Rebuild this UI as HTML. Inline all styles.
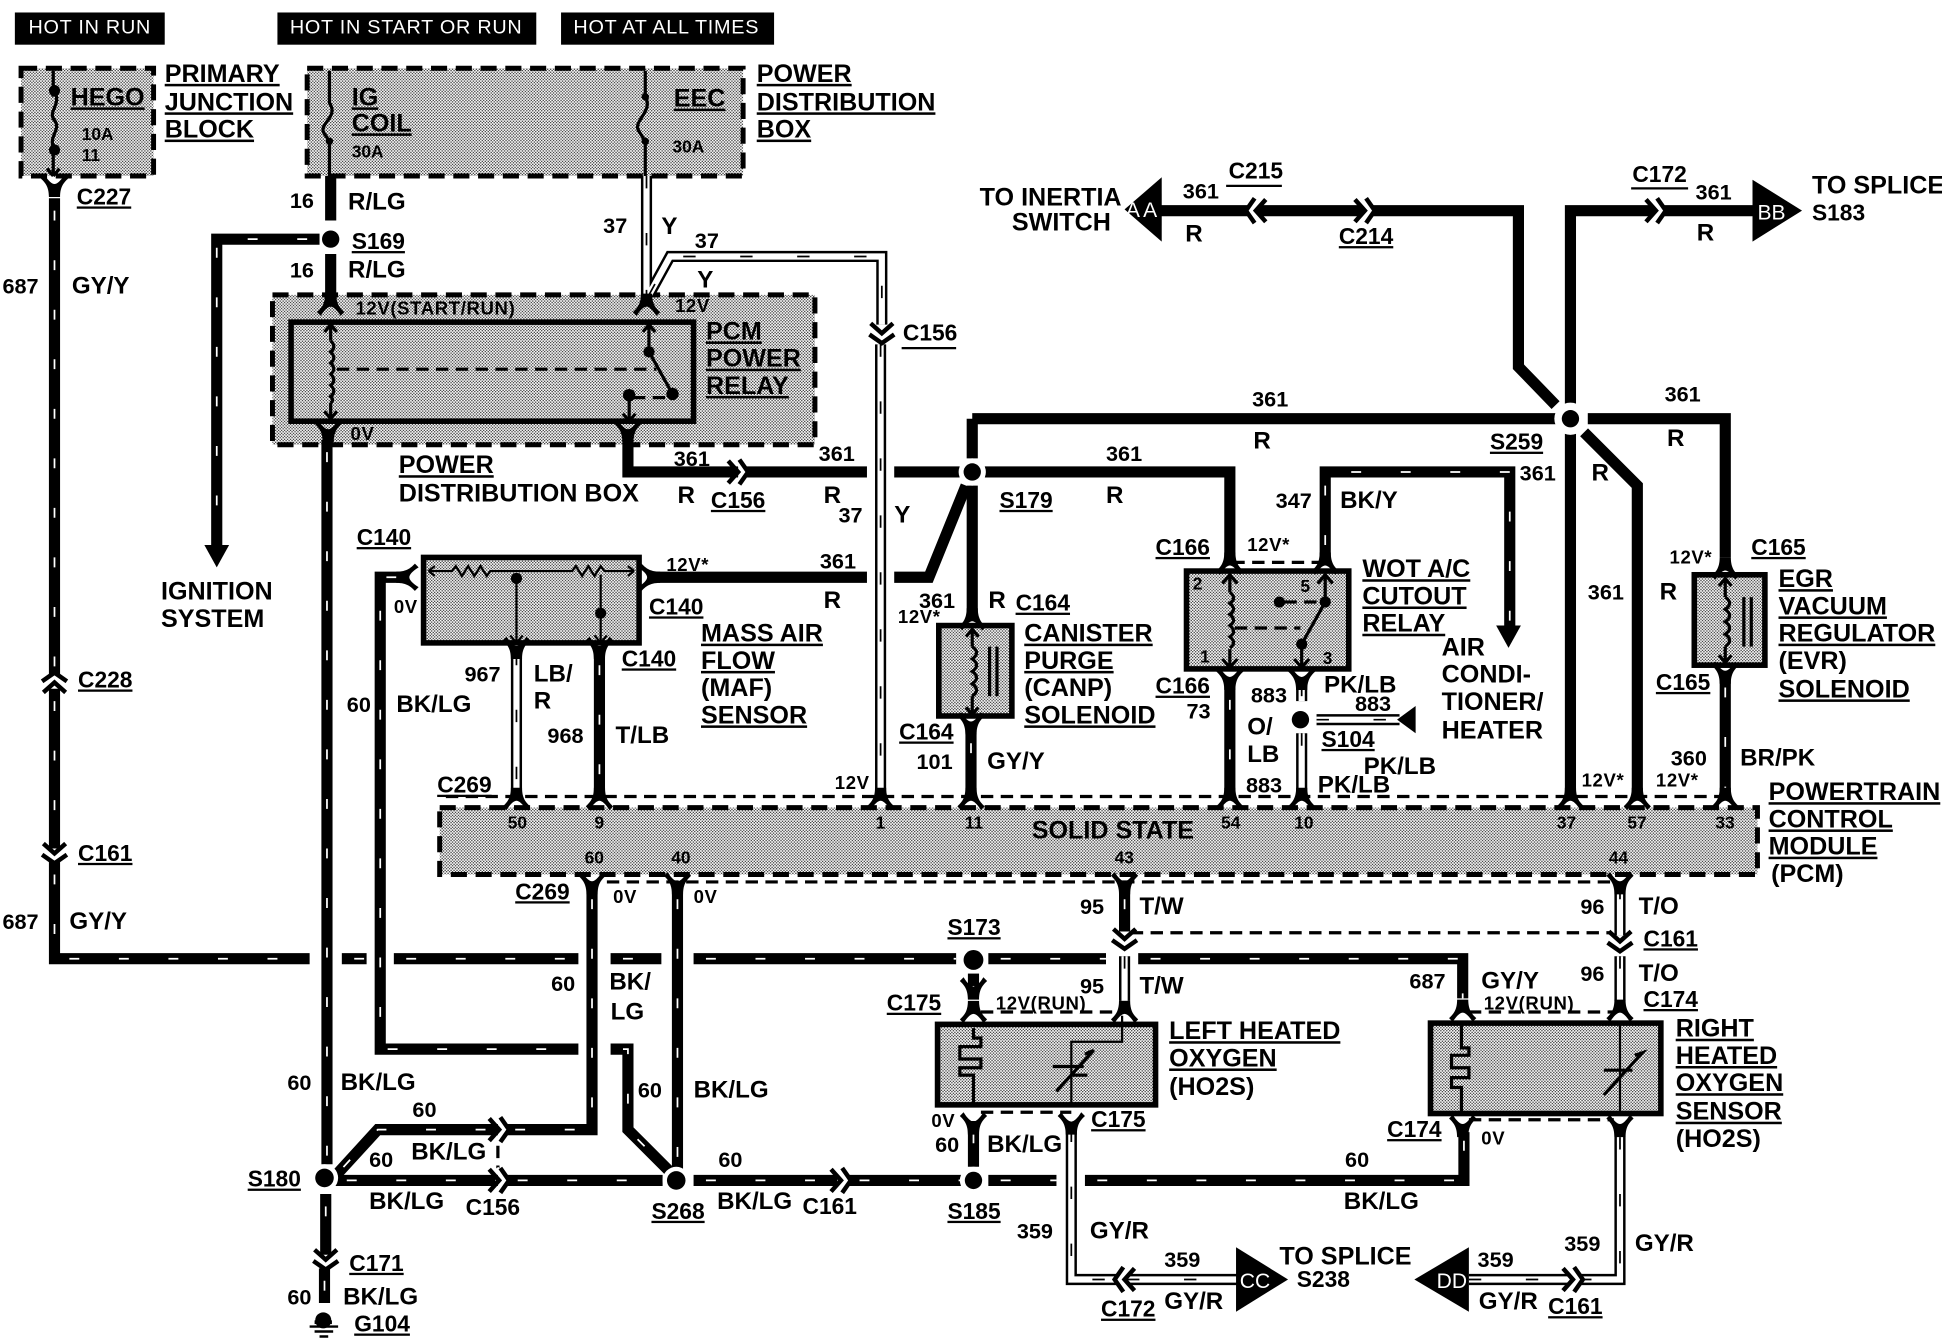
<!DOCTYPE html>
<html><head><meta charset="utf-8"><title>Wiring diagram</title>
<style>
html,body{margin:0;padding:0;background:#fff}
svg{display:block}
text{font-family:"Liberation Sans",sans-serif;font-weight:bold;font-size:20.3px;fill:#000}
.u{text-decoration:underline;text-decoration-thickness:1.6px;text-underline-offset:4px}
.n{font-size:17.5px}
.m{font-size:19.5px}
.c{font-size:18.4px}
.s{font-size:15px;letter-spacing:.5px}
.p{font-size:14px}
.h{fill:#fff;font-weight:normal;font-size:16px;letter-spacing:.6px}
.w{fill:#fff;font-weight:normal;font-size:17px}
.thin{fill:none;stroke:#000;stroke-width:1.8}
.med{fill:none;stroke:#000;stroke-width:2.6}
.dash{fill:none;stroke:#000;stroke-width:2.6;stroke-dasharray:10 6}
.box{stroke:#000;stroke-width:4.5;fill:url(#st)}
.dbox{stroke:#000;stroke-width:4;stroke-dasharray:13 7;fill:url(#st)}
</style></head><body>
<svg xmlns="http://www.w3.org/2000/svg" width="1942" height="1344" viewBox="0 0 1568 1085">
<defs>
<pattern id="st" width="2.4" height="2.4" patternUnits="userSpaceOnUse">
<rect width="2.4" height="2.4" fill="#fff"/><circle cx=".6" cy=".6" r=".54" fill="#000"/><circle cx="1.8" cy="1.8" r=".54" fill="#000"/>
</pattern>
<g id="y"><path d="M-11,-8 C-8,-5 -4.5,-2 -4.5,7 L4.5,7 C4.5,-2 8,-5 11,-8 L8,-11 C5,-6 2,-3.5 0,-3.5 C-2,-3.5 -5,-6 -8,-11Z" fill="#000"/></g>
<g id="c" fill="none"><path d="M-3,-10 L4,0 L-3,10" stroke="#fff" stroke-width="3.4"/><path d="M-9,-9 L-1,0 L-9,9" stroke="#000" stroke-width="3.6"/><path d="M0,-10 L7,0 L0,10" stroke="#000" stroke-width="3.6"/></g>
<g id="ti" fill="none" stroke-linejoin="miter">
<path d="M44,160 V545"/><path d="M44,556 V685"/><path d="M44,696 V774 H250"/><path d="M276,774 H296"/><path d="M318,774 H467"/><path d="M493,774 H534"/><path d="M560,774 H772"/><path d="M798,774 H893"/><path d="M919,774 H1181 V806"/>
<path d="M258,193 H175 V442"/>
<path d="M264,355 V940"/><path d="M263,964 V1013"/><path d="M262,1024 V1052"/>
<path d="M330,466 H307 V847 H467"/><path d="M493,847 H507 V912 L540,945"/>
<path d="M478,716 V912 H408"/><path d="M402,912 H305 L272,948"/>
<path d="M547,716 V945"/>
<path d="M270,953 H402"/><path d="M408,953 H535"/><path d="M560,953 H676"/><path d="M684,953 H777"/><path d="M798,953 H853"/><path d="M876,953 H1182 V914"/>
<path d="M786,905 V942"/><path d="M786,786 V800"/>
<path d="M1070,450 V381 H1219 V508"/>
<path d="M993,555 V642"/><path d="M484,527 V642"/><path d="M1393,545 V642"/><path d="M784,590 V642"/><path d="M908,716 V752"/>
</g>
<g id="so" fill="none">
<path d="M267,142 V178"/><path d="M267,205 V240"/>
<path d="M507,355 V381 H596"/><path d="M600,381 H700"/><path d="M722,381 H775"/>
<path d="M525,466 H700"/><path d="M722,466 H750 L780,392"/>
<path d="M785,338 V370"/><path d="M785,392 V495"/>
<path d="M795,381 H993 V450"/>
<path d="M785,338 H1256"/><path d="M1282,338 H1393 V450"/>
<path d="M1268,350 V642"/><path d="M1268,326 V170 H1335"/><path d="M1341,170 H1418"/>
<path d="M1256,327 L1226,296 V170 H1106"/><path d="M1100,170 H1016"/><path d="M1010,170 H936"/>
<path d="M1279,349 L1322,392 V642"/>
</g>
<g id="tw" fill="none">
<path d="M522,142 V240"/><path d="M524,238 L541,207 H712 V262"/><path d="M711,278 V645"/>
<path d="M417,527 V642"/><path d="M1051,552 V566"/><path d="M1051,592 V642"/><path d="M1063,581 H1130"/>
<path d="M908,772 V808"/><path d="M1308,716 V755"/><path d="M1308,772 V808"/>
<path d="M865,912 V1033 H903"/><path d="M910,1033 H1000"/><path d="M1186,1033 H1268"/><path d="M1275,1033 H1308 V912"/>
</g>
</defs>
<rect width="1568" height="1085" fill="#fff"/>

<rect x="12" y="10" width="121" height="26"/><rect x="224" y="10" width="209" height="26"/><rect x="453" y="10" width="172" height="26"/>
<text class="h" x="23" y="27">HOT IN RUN</text><text class="h" x="234" y="27">HOT IN START OR RUN</text><text class="h" x="463" y="27">HOT AT ALL TIMES</text>

<rect class="dbox" x="17" y="55" width="107" height="87"/>
<rect class="dbox" x="248" y="55" width="352" height="87"/>
<rect class="dbox" x="220" y="238" width="438" height="121"/>
<rect class="box" x="235" y="260" width="325" height="80"/>
<rect class="box" x="342" y="450" width="174" height="69"/>
<rect class="box" x="758" y="505" width="59" height="73"/>
<rect class="box" x="958" y="461" width="131" height="79"/>
<rect class="box" x="1368" y="464" width="57" height="73"/>
<rect class="dbox" x="355" y="652" width="1064" height="54"/>
<rect class="box" x="757" y="827" width="176" height="65"/>
<rect class="box" x="1155" y="826" width="186" height="73"/>

<use href="#ti" stroke="#000" stroke-width="9"/>
<use href="#so" stroke="#000" stroke-width="9"/>
<use href="#ti" stroke="#fff" stroke-width="1.4" stroke-dasharray="8 32" stroke-dashoffset="-10"/>
<use href="#tw" stroke="#000" stroke-width="9"/>
<use href="#tw" stroke="#fff" stroke-width="5"/>
<use href="#tw" stroke="#000" stroke-width="1.4" stroke-dasharray="10 36"/>

<path class="dash" d="M360,643 H1400"/><path class="dash" d="M490,712 H1305"/>
<path class="dash" d="M913,753 H1300"/><path class="dash" d="M995,454 H1070"/>
<path class="dash" d="M792,817 H905"/><path class="dash" d="M1186,817 H1303"/>
<path class="dash" d="M792,898 H865"/><path class="dash" d="M1186,904 H1303"/>
<path class="dash" d="M402,925 V945"/>

<path d="M165,440 H185 L175,458Z"/>
<path d="M1208,505 H1228 L1218,523Z"/>
<path d="M1128,581 L1143,570 V592Z"/>
<path d="M908,169 L938,143 V195Z"/>
<path d="M1415,145 L1455,170 L1415,195Z"/>
<path d="M998,1007 L1040,1033 L998,1059Z"/>
<path d="M1186,1007 L1142,1033 L1186,1059Z"/>
<text class="w" x="909" y="175">A</text><text class="w" x="923" y="175">A</text>
<text class="w" x="1419" y="177">BB</text><text class="w" x="1001" y="1040">CC</text><text class="w" x="1160" y="1040">DD</text>

<use href="#y" transform="translate(44,152)"/>
<use href="#c" transform="translate(44,550) rotate(-90)"/>
<use href="#c" transform="translate(44,690) rotate(90)"/>
<use href="#y" transform="translate(267,244) rotate(180)"/>
<use href="#y" transform="translate(522,244) rotate(180)"/>
<use href="#y" transform="translate(265,350)"/>
<use href="#y" transform="translate(507,350)"/>
<use href="#c" transform="translate(712,270) rotate(90)"/>
<use href="#c" transform="translate(597,381)"/>
<use href="#y" transform="translate(327,466) rotate(90)"/>
<use href="#y" transform="translate(526,466) rotate(-90)"/>
<use href="#y" transform="translate(417,525)"/>
<use href="#y" transform="translate(484,525)"/>
<use href="#y" transform="translate(785,498) rotate(180)"/>
<use href="#y" transform="translate(784,586)"/>
<use href="#y" transform="translate(993,453) rotate(180)"/>
<use href="#y" transform="translate(1070,453) rotate(180)"/>
<use href="#y" transform="translate(993,550)"/>
<use href="#y" transform="translate(1051,550)"/>
<use href="#y" transform="translate(1393,457) rotate(180)"/>
<use href="#y" transform="translate(1393,545)"/>
<use href="#y" transform="translate(417,643) rotate(180)"/>
<use href="#y" transform="translate(484,643) rotate(180)"/>
<use href="#y" transform="translate(711,643) rotate(180)"/>
<use href="#y" transform="translate(784,643) rotate(180)"/>
<use href="#y" transform="translate(993,643) rotate(180)"/>
<use href="#y" transform="translate(1051,643) rotate(180)"/>
<use href="#y" transform="translate(1268,643) rotate(180)"/>
<use href="#y" transform="translate(1322,643) rotate(180)"/>
<use href="#y" transform="translate(1393,643) rotate(180)"/>
<use href="#y" transform="translate(478,715)"/>
<use href="#y" transform="translate(547,715)"/>
<use href="#y" transform="translate(908,715)"/>
<use href="#y" transform="translate(1308,715)"/>
<use href="#c" transform="translate(908,759) rotate(90)"/>
<use href="#c" transform="translate(1308,761) rotate(90)"/>
<use href="#y" transform="translate(786,800)"/>
<use href="#y" transform="translate(786,815) rotate(180)"/>
<use href="#y" transform="translate(908,815) rotate(180)"/>
<use href="#y" transform="translate(1181,814) rotate(180)"/>
<use href="#y" transform="translate(1308,814) rotate(180)"/>
<use href="#y" transform="translate(786,909)"/>
<use href="#y" transform="translate(865,909)"/>
<use href="#y" transform="translate(1181,911)"/>
<use href="#y" transform="translate(1308,911)"/>
<use href="#c" transform="translate(404,912)"/>
<use href="#c" transform="translate(404,953)"/>
<use href="#c" transform="translate(680,953)"/>
<use href="#c" transform="translate(1338,170)"/>
<use href="#c" transform="translate(1103,170)"/>
<use href="#c" transform="translate(1013,170) rotate(180)"/>
<use href="#c" transform="translate(907,1033) rotate(180)"/>
<use href="#c" transform="translate(1271,1033)"/>
<use href="#c" transform="translate(263,1018) rotate(90)"/>

<circle cx="267" cy="193" r="7"/>
<circle cx="785" cy="381" r="11" fill="#fff"/><circle cx="785" cy="381" r="7"/>
<circle cx="1268" cy="338" r="13" fill="#fff"/><circle cx="1268" cy="338" r="7"/>
<circle cx="262" cy="951" r="11" fill="#fff"/><circle cx="262" cy="951" r="7.5"/>
<circle cx="546" cy="953" r="11" fill="#fff"/><circle cx="546" cy="953" r="7.5"/>
<circle cx="786" cy="953" r="11" fill="#fff"/><circle cx="786" cy="953" r="7"/>
<circle cx="786" cy="775" r="8"/><circle cx="1050" cy="581" r="7"/>

<path class="med" d="M43,57 V142 M43,142 l-5,-6 M43,142 l5,-6"/>
<circle cx="44" cy="73" r="4.5"/><circle cx="44" cy="121" r="4.5"/>
<rect x="36" y="78" width="14" height="38" fill="url(#st)"/>
<path class="med" d="M44,73 C50,85 38,90 44,97 C50,105 38,110 44,121"/>
<path class="med" d="M266,57 V83 C274,95 256,100 262,108 L266,114 V142"/>
<circle cx="266" cy="114" r="3"/>
<path class="med" d="M521,57 V78 C528,90 510,98 516,106 L521,114 V142"/>
<circle cx="521" cy="78" r="3"/><circle cx="521" cy="114" r="3"/>

<path class="med" d="M267,262 V338 M262,268 L267,262 L272,268 M262,332 L267,338 L272,332"/>
<rect x="263" y="275" width="8" height="50" fill="url(#st)"/>
<path class="med" d="M267,275 q5,5 0,9 q5,5 0,9 q5,5 0,9 q5,5 0,9 q5,5 0,9 q3,3 0,5"/>
<path class="dash" d="M272,298 H530"/>
<path class="med" d="M524,262 V284 L543,318 M519,268 L524,262 L529,268"/>
<circle cx="524" cy="284" r="4.5"/><circle cx="543" cy="318" r="5"/>
<path class="dash" d="M511,321 H540" stroke-dasharray="5 4"/>
<circle cx="508" cy="319" r="5"/>
<path class="med" d="M508,319 V340 M503,334 L508,340 L513,334"/>

<path class="thin" d="M346,461 H365 l3,-4 l5,8 l5,-8 l5,8 l5,-8 l5,8 l3,-4 H462 l3,-4 l5,8 l5,-8 l5,8 l5,-8 l3,4 H512 M346,461 l5,-4 M346,461 l5,4 M512,461 l-5,-4 M512,461 l-5,4"/>
<circle cx="417" cy="467" r="4.5"/><circle cx="485" cy="495" r="4.5"/>
<path class="thin" d="M417,467 V519 M485,464 V519 M412,513 L417,519 L422,513 M480,513 L485,519 L490,513"/>

<path class="med" d="M785,508 V577 M780,514 L785,508 L790,514 M780,571 L785,577 L790,571"/>
<rect x="781" y="522" width="8" height="40" fill="url(#st)"/>
<path class="med" d="M785,522 q7,5 0,10 q7,5 0,10 q7,5 0,10 q7,5 0,10"/>
<path class="med" d="M799,522 V562 M805,522 V562"/>

<path class="med" d="M1393,467 V535 M1388,473 L1393,467 L1398,473 M1388,529 L1393,535 L1398,529"/>
<rect x="1389" y="482" width="8" height="40" fill="url(#st)"/>
<path class="med" d="M1393,482 q7,5 0,10 q7,5 0,10 q7,5 0,10 q7,5 0,10"/>
<path class="med" d="M1408,482 V522 M1414,482 V522"/>

<path class="med" d="M993,464 V539 M987,471 L993,464 L999,471 M987,532 L993,539 L999,532"/>
<rect x="989" y="478" width="8" height="46" fill="url(#st)"/>
<path class="med" d="M993,478 q6,5 0,9 q6,5 0,9 q6,5 0,9 q6,5 0,9 q6,5 0,9"/>
<path class="dash" d="M997,507 H1050"/>
<path class="med" d="M1070,464 V486 L1051,520 V539 M1064,471 L1070,464 L1076,471 M1045,532 L1051,539 L1057,532"/>
<circle cx="1070" cy="486" r="4.5"/><circle cx="1051" cy="520" r="4.5"/><circle cx="1033" cy="486" r="4.5"/>
<path class="dash" d="M1037,486 H1066" stroke-dasharray="5 4"/>

<path class="med" d="M786,830 V838 H792 V845 H775 V855 H792 V862 H775 V868 H786 V892"/>
<path class="thin" d="M906,820 V841 H865 V892"/>
<path class="med" d="M853,881 L883,848 L876,851 M850,861 H875 M865,868 H878"/>
<path class="med" d="M1180,828 V846 H1186 V852 H1172 V862 H1186 V870 H1172 V878 H1180 V898"/>
<path class="thin" d="M1308,828 V898"/>
<path class="med" d="M1295,884 L1326,850 L1320,852 M1295,864 H1318"/>

<circle cx="261" cy="1066" r="6.5"/><rect x="254" y="1066" width="14" height="3"/>
<path d="M250,1071 H273 M254,1075 H269 M258,1079 H265" stroke="#000" stroke-width="2"/>

<text class="u" x="57" y="85">HEGO</text><text class="p" x="66" y="113">10A</text><text class="p" x="66" y="130">11</text>
<text class="u" x="133" y="66">PRIMARY</text><text class="u" x="133" y="89">JUNCTION</text><text class="u" x="133" y="111">BLOCK</text>
<text class="u" x="284" y="85">IG</text><text class="u" x="284" y="106">COIL</text><text class="p" x="284" y="127">30A</text>
<text class="u" x="544" y="86">EEC</text><text class="p" x="543" y="123">30A</text>
<text class="u" x="611" y="66">POWER</text><text class="u" x="611" y="89">DISTRIBUTION</text><text class="u" x="611" y="111">BOX</text>
<text class="u c" x="62" y="165">C227</text>
<text class="n" x="2" y="237">687</text><text class="m" x="58" y="237">GY/Y</text>
<text class="n" x="234" y="168">16</text><text class="m" x="281" y="169">R/LG</text>
<text class="u c" x="284" y="201">S169</text>
<text class="n" x="234" y="224">16</text><text class="m" x="281" y="224">R/LG</text>
<text class="n" x="487" y="188">37</text><text class="m" x="534" y="189">Y</text><text class="n" x="561" y="200">37</text><text class="m" x="563" y="232">Y</text>
<text class="s" x="287" y="254">12V(START/RUN)</text><text class="s" x="545" y="252">12V</text><text class="s" x="283" y="355">0V</text>
<text class="u" x="570" y="274">PCM</text><text class="u" x="570" y="296">POWER</text><text class="u" x="570" y="318">RELAY</text>
<text class="c" x="729" y="275">C156</text><path class="thin" d="M728,281 H772"/>
<text class="u" x="322" y="382">POWER</text><text x="322" y="405">DISTRIBUTION BOX</text>
<text class="n" x="544" y="376">361</text><text class="n" x="661" y="372">361</text><text class="m" x="547" y="406">R</text><text class="m" x="665" y="406">R</text>
<text class="u c" x="574" y="410">C156</text><text class="n" x="677" y="422">37</text><text class="m" x="722" y="422">Y</text>
<text class="u c" x="288" y="440">C140</text><text class="s" x="318" y="495">0V</text>
<text class="s" x="538" y="461">12V*</text><text class="n" x="662" y="459">361</text><text class="m" x="665" y="491">R</text>
<text class="u c" x="524" y="496">C140</text><text class="u c" x="502" y="538">C140</text>
<text class="u" x="566" y="518">MASS AIR</text><text class="u" x="566" y="540">FLOW</text><text x="566" y="562">(MAF)</text><text class="u" x="566" y="584">SENSOR</text>
<text x="130" y="484">IGNITION</text><text x="130" y="506">SYSTEM</text>
<text class="n" x="375" y="550">967</text><text class="m" x="431" y="550">LB/</text><text class="m" x="431" y="572">R</text><text class="n" x="442" y="600">968</text><text class="m" x="497" y="600">T/LB</text>
<text class="n" x="280" y="575">60</text><text class="m" x="320" y="575">BK/LG</text>
<text class="u c" x="63" y="555">C228</text><text class="u c" x="63" y="695">C161</text>
<text class="n" x="2" y="750">687</text><text class="m" x="56" y="750">GY/Y</text>
<text class="u c" x="353" y="640">C269</text><text class="s" x="674" y="637">12V</text>

<text class="p" x="410" y="669">50</text><text class="p" x="480" y="669">9</text><text class="p" x="707" y="669">1</text><text class="p" x="779" y="669">11</text><text class="p" x="986" y="669">54</text><text class="p" x="1045" y="669">10</text><text class="p" x="1257" y="669">37</text><text class="p" x="1314" y="669">57</text><text class="p" x="1385" y="669">33</text>
<text class="p" x="472" y="697">60</text><text class="p" x="542" y="697">40</text><text class="p" x="900" y="697">43</text><text class="p" x="1299" y="697">44</text>
<text x="833" y="677">SOLID STATE</text>
<text class="u" x="1428" y="646">POWERTRAIN</text><text class="u" x="1428" y="668">CONTROL</text><text class="u" x="1428" y="690">MODULE</text><text x="1430" y="712">(PCM)</text>

<text class="n" x="742" y="491">361</text><text class="s" x="725" y="503">12V*</text><text class="m" x="798" y="491">R</text><text class="u c" x="820" y="493">C164</text>
<text class="u" x="827" y="518">CANISTER</text><text class="u" x="827" y="540">PURGE</text><text x="827" y="562">(CANP)</text><text class="u" x="827" y="584">SOLENOID</text>
<text class="u c" x="726" y="597">C164</text><text class="n" x="740" y="621">101</text><text class="m" x="797" y="621">GY/Y</text>
<text class="u c" x="807" y="410">S179</text><text class="n" x="893" y="372">361</text><text class="m" x="893" y="406">R</text>
<text class="n" x="1011" y="328">361</text><text class="m" x="1012" y="362">R</text>

<text class="u c" x="933" y="448">C166</text><text class="s" x="1007" y="445">12V*</text>
<text class="p" x="963" y="476">2</text><text class="p" x="1050" y="478">5</text><text class="p" x="969" y="535">1</text><text class="p" x="1068" y="536">3</text>
<text class="n" x="1030" y="410">347</text><text class="m" x="1082" y="410">BK/Y</text><text class="u c" x="1203" y="363">S259</text><text class="n" x="1227" y="388">361</text>
<text class="u" x="1100" y="466">WOT A/C</text><text class="u" x="1100" y="488">CUTOUT</text><text class="u" x="1100" y="510">RELAY</text>
<text x="1164" y="529">AIR</text><text x="1164" y="551">CONDI-</text><text x="1164" y="573">TIONER/</text><text x="1164" y="596">HEATER</text>
<text class="u c" x="933" y="560">C166</text><text class="n" x="958" y="580">73</text><text class="n" x="1010" y="567">883</text><text class="m" x="1007" y="593">O/</text><text class="m" x="1007" y="615">LB</text><text class="n" x="1006" y="640">883</text>
<text class="m" x="1069" y="559">PK/LB</text><text class="n" x="1094" y="574">883</text><text class="u c" x="1067" y="603">S104</text><text class="m" x="1101" y="625">PK/LB</text><text class="m" x="1064" y="640">PK/LB</text>

<text x="791" y="166">TO INERTIA</text><text x="817" y="186">SWITCH</text>
<text class="c" x="992" y="144">C215</text><path class="thin" d="M990,150 H1035"/>
<text class="n" x="955" y="160">361</text><text class="m" x="957" y="195">R</text><text class="u c" x="1081" y="197">C214</text>
<text class="c" x="1318" y="147">C172</text><path class="thin" d="M1317,152 H1363"/><text class="n" x="1369" y="161">361</text><text class="m" x="1370" y="194">R</text>
<text x="1463" y="156">TO SPLICE</text><text class="c" x="1463" y="178">S183</text>
<text class="n" x="1344" y="324">361</text><text class="m" x="1346" y="360">R</text><text class="m" x="1285" y="388">R</text>
<text class="n" x="1282" y="484">361</text><text class="m" x="1340" y="484">R</text>
<text class="s" x="1348" y="455">12V*</text><text class="u c" x="1414" y="448">C165</text>
<text class="u" x="1436" y="474">EGR</text><text class="u" x="1436" y="496">VACUUM</text><text class="u" x="1436" y="518">REGULATOR</text><text x="1436" y="540">(EVR)</text><text class="u" x="1436" y="563">SOLENOID</text>
<text class="u c" x="1337" y="557">C165</text><text class="n" x="1349" y="618">360</text><text class="m" x="1405" y="618">BR/PK</text>
<text class="s" x="1277" y="635">12V*</text><text class="s" x="1337" y="635">12V*</text>

<text class="u c" x="416" y="726">C269</text><text class="s" x="495" y="729">0V</text><text class="s" x="560" y="729">0V</text>
<text class="n" x="445" y="800">60</text><text class="m" x="492" y="799">BK/</text><text class="m" x="493" y="823">LG</text>
<text class="n" x="232" y="880">60</text><text class="m" x="275" y="880">BK/LG</text><text class="n" x="333" y="902">60</text><text class="n" x="298" y="942">60</text><text class="m" x="332" y="936">BK/LG</text><text class="m" x="298" y="976">BK/LG</text><text class="c" x="376" y="981">C156</text>
<text class="n" x="515" y="886">60</text><text class="m" x="560" y="886">BK/LG</text>
<text class="u c" x="200" y="958">S180</text><text class="u c" x="526" y="984">S268</text><text class="n" x="580" y="942">60</text><text class="m" x="579" y="976">BK/LG</text><text class="c" x="648" y="980">C161</text><text class="u c" x="765" y="984">S185</text>
<text class="u c" x="282" y="1026">C171</text><text class="n" x="232" y="1053">60</text><text class="m" x="277" y="1053">BK/LG</text><text class="u c" x="286" y="1075">G104</text>

<text class="n" x="872" y="738">95</text><text class="m" x="920" y="738">T/W</text><text class="n" x="1276" y="738">96</text><text class="m" x="1323" y="738">T/O</text>
<text class="u c" x="1327" y="764">C161</text><text class="n" x="1276" y="792">96</text><text class="m" x="1323" y="792">T/O</text><text class="u c" x="1327" y="813">C174</text>
<text class="n" x="872" y="802">95</text><text class="m" x="920" y="802">T/W</text><text class="n" x="1138" y="798">687</text><text class="m" x="1196" y="798">GY/Y</text>
<text class="s" x="1198" y="815">12V(RUN)</text><text class="s" x="804" y="815">12V(RUN)</text>
<text class="u c" x="765" y="755">S173</text><text class="u c" x="716" y="816">C175</text>
<text class="u" x="944" y="839">LEFT HEATED</text><text class="u" x="944" y="861">OXYGEN</text><text x="944" y="884">(HO2S)</text>
<text class="u" x="1353" y="837">RIGHT</text><text class="u" x="1353" y="859">HEATED</text><text class="u" x="1353" y="881">OXYGEN</text><text class="u" x="1353" y="904">SENSOR</text><text x="1353" y="926">(HO2S)</text>
<text class="s" x="752" y="910">0V</text><text class="n" x="755" y="930">60</text><text class="m" x="797" y="930">BK/LG</text><text class="u c" x="881" y="910">C175</text>
<text class="n" x="1086" y="942">60</text><text class="m" x="1085" y="976">BK/LG</text><text class="u c" x="1120" y="918">C174</text><text class="s" x="1196" y="924">0V</text>
<text class="n" x="821" y="1000">359</text><text class="m" x="880" y="1000">GY/R</text><text class="n" x="1263" y="1010">359</text><text class="m" x="1320" y="1010">GY/R</text>
<text class="n" x="940" y="1023">359</text><text class="m" x="940" y="1057">GY/R</text><text class="u c" x="889" y="1063">C172</text>
<text x="1033" y="1021">TO SPLICE</text><text class="c" x="1047" y="1039">S238</text>
<text class="n" x="1193" y="1023">359</text><text class="m" x="1194" y="1057">GY/R</text><text class="u c" x="1250" y="1061">C161</text>
</svg>
</body></html>
